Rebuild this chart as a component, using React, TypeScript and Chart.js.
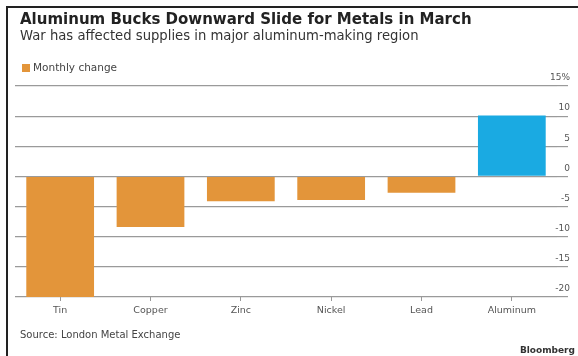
import React, { useEffect, useRef } from "react";
import { Chart, registerables } from "chart.js";

Chart.register(...registerables);

const categories = ["Tin", "Copper", "Zinc", "Nickel", "Lead", "Aluminum"];
const monthlyChange = [-20, -8.4, -4.1, -3.9, -2.7, 10.1];
const barColors = ["#E3953A", "#E3953A", "#E3953A", "#E3953A", "#E3953A", "#1AAAE2"];
const yTicks = [15, 10, 5, 0, -5, -10, -15, -20];
const yTickLabels = ["15%", "10", "5", "0", "-5", "-10", "-15", "-20"];

const title = "Aluminum Bucks Downward Slide for Metals in March";
const subtitle = "War has affected supplies in major aluminum-making region";
const legendLabel = "Monthly change";
const source = "Source: London Metal Exchange";
const brand = "Bloomberg";

const FONT = "'DejaVu Sans', Verdana, sans-serif";

const yLabelPlugin = {
  id: "yLabelsAboveLines",
  afterDraw(chart: any) {
    const scale = chart.scales.y;
    const ctx = chart.ctx;
    ctx.save();
    ctx.font = `9px ${FONT}`;
    ctx.fillStyle = "#555555";
    ctx.textAlign = "right";
    ctx.textBaseline = "middle";
    const xRight = chart.chartArea.right + 13;
    yTicks.forEach((v, i) => {
      const y = scale.getPixelForValue(v) - 8;
      ctx.fillText(yTickLabels[i], xRight, y);
    });
    ctx.restore();
  },
};

export default function App() {
  const canvasRef = useRef<HTMLCanvasElement | null>(null);

  useEffect(() => {
    const canvas = canvasRef.current;
    if (!canvas) return;
    const chart = new Chart(canvas, {
      type: "bar",
      data: {
        labels: categories,
        datasets: [
          {
            label: legendLabel,
            data: monthlyChange,
            backgroundColor: barColors,
            borderWidth: 0,
            barPercentage: 0.75,
            categoryPercentage: 1,
          },
        ],
      },
      options: {
        animation: false,
        responsive: false,
        maintainAspectRatio: false,
        layout: { padding: { left: 15, right: 8, top: 86, bottom: 0 } },
        plugins: {
          legend: { display: false },
          tooltip: { enabled: false },
        },
        scales: {
          x: {
            offset: true,
            grid: {
              offset: false,
              drawOnChartArea: false,
              drawTicks: true,
              tickLength: 4,
              color: "#999999",
            },
            border: { display: false },
            ticks: {
              padding: 4,
              color: "#555555",
              font: { family: FONT, size: 9.5 },
              maxRotation: 0,
            },
            afterFit: (scale: any) => {
              scale.height = 59;
            },
          },
          y: {
            position: "right",
            min: -20,
            max: 15,
            afterBuildTicks: (scale: any) => {
              scale.ticks = yTicks.map((v) => ({ value: v }));
            },
            grid: {
              color: "#9a9a9a",
              lineWidth: 1.2,
              drawTicks: true,
              tickLength: 11,
            },
            border: { display: false },
            ticks: { display: false },
            afterFit: (scale: any) => {
              scale.width = 13;
            },
          },
        },
      },
      plugins: [yLabelPlugin],
    });
    return () => chart.destroy();
  }, []);

  return (
    <div
      style={{
        position: "fixed",
        left: 0,
        top: 0,
        width: 578,
        height: 356,
        background: "#ffffff",
        overflow: "hidden",
        fontFamily: FONT,
      }}
    >
      <div
        style={{
          position: "absolute",
          left: 6,
          top: 6,
          width: 572,
          height: 350,
          borderLeft: "2px solid #222",
          borderTop: "2px solid #222",
          boxSizing: "border-box",
        }}
      />
      <canvas
        ref={canvasRef}
        width={578}
        height={356}
        style={{ position: "absolute", left: 0, top: 0, width: 578, height: 356 }}
      />
      <div
        style={{
          position: "absolute",
          left: 20,
          top: 11,
          fontSize: 15,
          fontWeight: "bold",
          color: "#222",
          whiteSpace: "nowrap",
          lineHeight: "17px",
        }}
      >
        {title}
      </div>
      <div
        style={{
          position: "absolute",
          left: 20,
          top: 28,
          fontSize: 13.2,
          color: "#333",
          whiteSpace: "nowrap",
          lineHeight: "16px",
        }}
      >
        {subtitle}
      </div>
      <div
        style={{
          position: "absolute",
          left: 22,
          top: 64,
          width: 8,
          height: 8,
          background: barColors[0],
        }}
      />
      <div
        style={{
          position: "absolute",
          left: 33,
          top: 61,
          fontSize: 10.5,
          color: "#444",
          whiteSpace: "nowrap",
          lineHeight: "13px",
        }}
      >
        {legendLabel}
      </div>
      <div
        style={{
          position: "absolute",
          left: 20,
          top: 328,
          fontSize: 10,
          color: "#444",
          whiteSpace: "nowrap",
          lineHeight: "13px",
        }}
      >
        {source}
      </div>
      <div
        style={{
          position: "absolute",
          right: 3,
          top: 344,
          fontSize: 9,
          fontWeight: "bold",
          color: "#333",
          whiteSpace: "nowrap",
          lineHeight: "12px",
        }}
      >
        {brand}
      </div>
    </div>
  );
}
